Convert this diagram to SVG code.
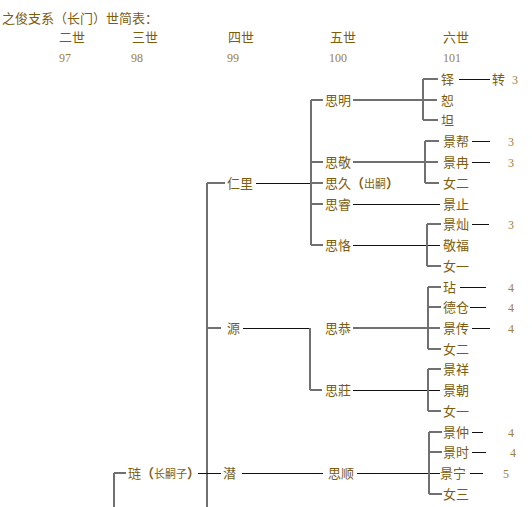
<svg xmlns="http://www.w3.org/2000/svg" width="532" height="507" viewBox="0 0 532 507">
<style>
.t{font-family:"Noto Sans CJK SC","Noto Sans CJK JP",sans-serif;font-size:13px;fill:#7d5c0c}
.s{font-size:11px}
.p{font-weight:bold}
.n{font-family:"Liberation Serif",serif;font-size:12px;fill:#9e7e3e}
.g{stroke:#707070;stroke-width:2;fill:none}
.b{stroke:#111;stroke-width:1;fill:none}
</style>
<rect width="532" height="507" fill="#fff"/>
<g id="header">
<text class="t" x="2" y="23">之俊支系（长门）世简表：</text>
<text class="t" x="59" y="42">二世</text>
<text class="t" x="132" y="42">三世</text>
<text class="t" x="228" y="42">四世</text>
<text class="t" x="330" y="42">五世</text>
<text class="t" x="443" y="42">六世</text>
<text class="n" x="59" y="62">97</text>
<text class="n" x="131" y="62">98</text>
<text class="n" x="227" y="62">99</text>
<text class="n" x="329" y="62">100</text>
<text class="n" x="443" y="62">101</text>
</g>
<g id="connectors">
<path class="g" d="M207 183V507M207 183H225M207 328H221M114 473V507M114 473H126"/>
<path class="b" d="M198 473.5H221M256 183.5H316"/>
<path class="g" d="M311 100V245M311 100H323M311 162H323M311 183H323M311 204H323M311 245H323"/>
<path class="g" d="M353 100H437M423 79V120M423 79H438M423 120H438"/>
<path class="b" d="M459 79.5H490"/>
<path class="g" d="M353 162H438M425 141V183M425 141H439M425 183H439"/>
<path class="b" d="M472 141.5H490M472 162.5H490"/>
<path class="b" d="M353 204.5H440"/>
<path class="b" d="M353 245.5H440"/>
<path class="g" d="M427 224V266M427 224H441M427 266H441"/>
<path class="b" d="M472 224.5H489"/>
<path class="b" d="M243 328.5H311"/>
<path class="g" d="M310 328V390M310 390H322"/>
<path class="g" d="M353 328H440M428 287V349M428 287H441M428 307H441M428 349H441"/>
<path class="b" d="M460 287.5H486M470 307.5H486M472 328.5H490"/>
<path class="b" d="M353 390.5H440"/>
<path class="g" d="M428 369V411M428 369H441M428 411H441"/>
<path class="b" d="M242 473.5H323M357 473.5H440"/>
<path class="g" d="M429 432V494M429 432H442M429 452H442M429 494H442"/>
<path class="b" d="M472 432.5H483M472 452.5H486M470 473.5H483"/>
</g>
<g id="n-renli"><text class="t" x="227" y="188">仁里</text></g>
<g id="n-yuan"><text class="t" x="227" y="333">源</text></g>
<g id="n-qian"><text class="t" x="223" y="478">潜</text></g>
<g id="n-lian"><text class="t" x="128" y="478">琏<tspan class="p">（</tspan><tspan class="s">长嗣子</tspan><tspan class="p">）</tspan></text></g>
<g id="n-siming"><text class="t" x="325" y="105">思明</text></g>
<g id="n-sijing"><text class="t" x="325" y="167">思敬</text></g>
<g id="n-sijiu"><text class="t" x="325" y="188">思久<tspan class="p">（</tspan><tspan class="s">出嗣</tspan><tspan class="p">）</tspan></text></g>
<g id="n-sirui"><text class="t" x="325" y="209">思睿</text></g>
<g id="n-sike"><text class="t" x="325" y="250">思恪</text></g>
<g id="n-sigong"><text class="t" x="325" y="333">思恭</text></g>
<g id="n-sizhuang"><text class="t" x="325" y="395">思莊</text></g>
<g id="n-sishun"><text class="t" x="328" y="478">思顺</text></g>
<g id="n-duo"><text class="t" x="441" y="84">铎</text><text class="t" x="492" y="84">转</text><text class="n" x="512" y="84">3</text></g>
<g id="n-shu"><text class="t" x="441" y="105">恕</text></g>
<g id="n-tan"><text class="t" x="441" y="125">坦</text></g>
<g id="n-jingbang"><text class="t" x="443" y="146">景帮</text><text class="n" x="508" y="146">3</text></g>
<g id="n-jingran"><text class="t" x="443" y="167">景冉</text><text class="n" x="508" y="167">3</text></g>
<g id="n-nver2a"><text class="t" x="443" y="188">女二</text></g>
<g id="n-jingzhi"><text class="t" x="443" y="209">景止</text></g>
<g id="n-jingcan"><text class="t" x="443" y="229">景灿</text><text class="n" x="508" y="229">3</text></g>
<g id="n-jingfu"><text class="t" x="443" y="250">敬福</text></g>
<g id="n-nver1a"><text class="t" x="443" y="271">女一</text></g>
<g id="n-dian"><text class="t" x="443" y="292">玷</text><text class="n" x="508" y="292">4</text></g>
<g id="n-decang"><text class="t" x="443" y="312">德仓</text><text class="n" x="508" y="312">4</text></g>
<g id="n-jingchuan"><text class="t" x="443" y="333">景传</text><text class="n" x="508" y="333">4</text></g>
<g id="n-nver2b"><text class="t" x="443" y="354">女二</text></g>
<g id="n-jingxiang"><text class="t" x="443" y="374">景祥</text></g>
<g id="n-jingchao"><text class="t" x="443" y="395">景朝</text></g>
<g id="n-nver1b"><text class="t" x="443" y="416">女一</text></g>
<g id="n-jingzhong"><text class="t" x="443" y="437">景仲</text><text class="n" x="508" y="437">4</text></g>
<g id="n-jingshi"><text class="t" x="443" y="457">景时</text><text class="n" x="510" y="457">4</text></g>
<g id="n-jingning"><text class="t" x="440" y="478">景宁</text><text class="n" x="503" y="478">5</text></g>
<g id="n-nver3"><text class="t" x="443" y="499">女三</text></g>
</svg>
